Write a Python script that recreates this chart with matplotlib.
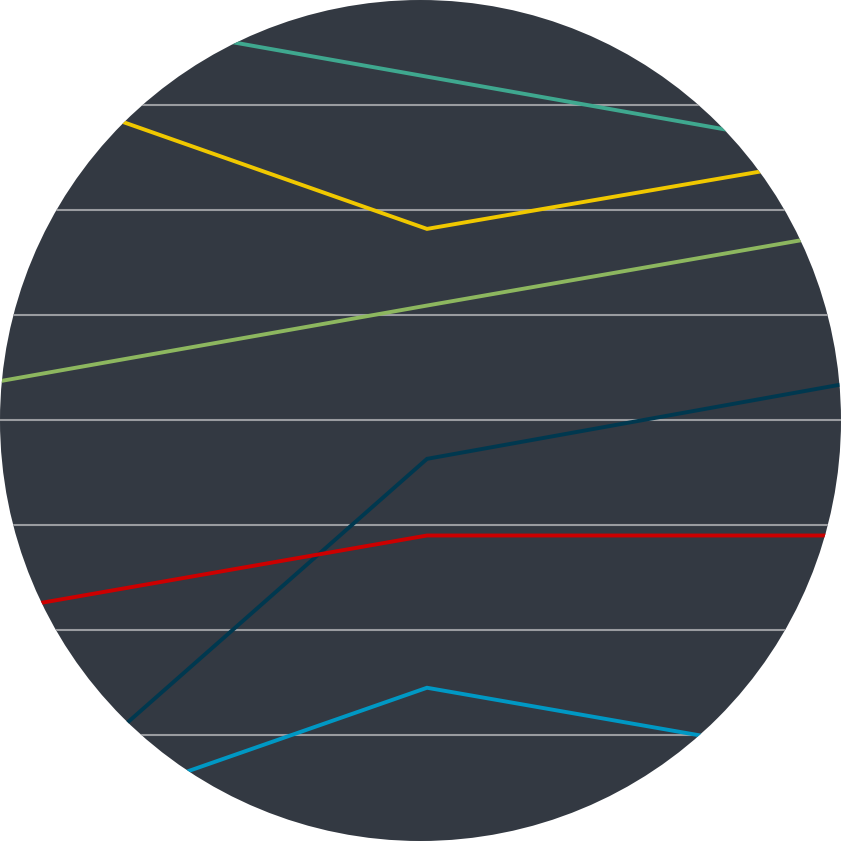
import matplotlib
matplotlib.use("Agg")
import matplotlib.pyplot as plt
from matplotlib.patches import Circle

# Category positions (three points per series)
categories = [0, 1, 2]

# Series values (grid units; gridlines at 1..7)
teal = [7.99, 7.27, 6.55]
yellow = [7.25, 5.82, 6.52]
green = [4.37, 5.09, 5.80]
navy = [0.05, 3.63, 4.36]
red = [2.19, 2.90, 2.90]
cyan = [0.03, 1.45, 0.74]

series = [
    ("teal", teal, "#3fa88f"),
    ("yellow", yellow, "#f0c800"),
    ("green", green, "#8db75f"),
    ("navy", navy, "#00384f"),
    ("red", red, "#cc0000"),
    ("cyan", cyan, "#0098c4"),
]

grid_values = [1, 2, 3, 4, 5, 6, 7]

fig = plt.figure(figsize=(8.41, 8.41), dpi=100, facecolor="white")
ax = fig.add_axes([0, 0, 1, 1])
ax.set_facecolor("none")
ax.set_xlim(0, 841 / 427)
ax.set_ylim(8 - 841 / 105, 8)
ax.axis("off")

bg = Circle((0.5, 0.5), 0.5, transform=ax.transAxes, facecolor="#333942",
            edgecolor="none", zorder=0)
ax.add_patch(bg)

for g in grid_values:
    ln = ax.axhline(g, color="#9a9ca0", linewidth=1.5, zorder=1)
    ln.set_clip_path(bg)

for name, vals, col in series:
    ln, = ax.plot(categories, vals, color=col, linewidth=2.8, zorder=2,
                  solid_joinstyle="miter")
    ln.set_clip_path(bg)

fig.savefig("out.png", dpi=100, facecolor="white")
